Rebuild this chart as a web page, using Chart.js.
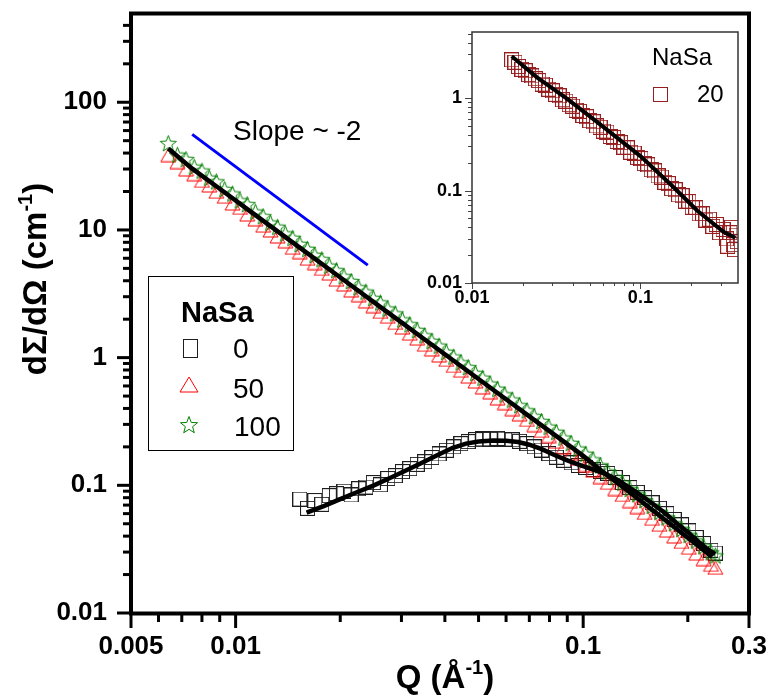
<!DOCTYPE html>
<html><head><meta charset="utf-8">
<script src="https://cdn.jsdelivr.net/npm/chart.js@4.4.1/dist/chart.umd.min.js"></script>
<style>
html,body{margin:0;padding:0;background:#fff;}
#wrap{position:relative;width:770px;height:696px;}
#wrap canvas{position:absolute;left:0;top:0;}
</style></head><body>
<div id="wrap"><canvas id="main" width="770" height="696"></canvas><canvas id="inset" width="770" height="696"></canvas></div>
<script>
// ---------- DATA ----------
const qMain = [0.0064,0.0068,0.0072,0.0076,0.0080,0.0084,0.0088,0.0093,0.0098,0.0103,0.0108,0.0114,0.0120,0.0126,0.0132,0.0139,0.0146,0.0153,0.0161,0.0169,0.0177,0.0186,0.0195,0.0205,0.0215,0.0226,0.0237,0.0249,0.0261,0.0274,0.0288,0.0302,0.0317,0.0333,0.0350,0.0367,0.0385,0.0404,0.0424,0.0445,0.0467,0.0490,0.0514,0.0540,0.0567,0.0595,0.0625,0.0656,0.0689,0.0723,0.0759,0.0797,0.0837,0.0879,0.0923,0.0969,0.1017,0.1068,0.1121,0.1177,0.1236,0.1298,0.1363,0.1431,0.1503,0.1578,0.1657,0.1740,0.1827,0.1918,0.2014,0.2115,0.2221,0.2332,0.2400];
const iNaSa100 = [47.5,38.5,35.6,31.0,28.9,25.4,23.8,20.7,19.1,16.9,15.8,13.8,12.7,11.3,10.5,9.3,8.6,7.7,7.05,6.3,5.85,5.2,4.8,4.3,3.95,3.52,3.26,2.90,2.68,2.40,2.20,1.97,1.81,1.63,1.48,1.34,1.23,1.10,1.01,0.91,0.835,0.75,0.69,0.62,0.565,0.51,0.465,0.42,0.383,0.345,0.316,0.285,0.260,0.234,0.213,0.192,0.175,0.158,0.142,0.127,0.115,0.104,0.093,0.0845,0.076,0.0685,0.0615,0.0556,0.050,0.0452,0.0406,0.0366,0.0330,0.0296,0.0280];
const iNaSa50 = [38.5,34.0,29.8,27.3,24.2,22.3,19.9,18.2,16.1,14.9,13.2,12.1,10.8,9.9,8.9,8.15,7.25,6.7,5.95,5.5,4.95,4.55,4.08,3.74,3.36,3.08,2.76,2.53,2.28,2.09,1.87,1.72,1.54,1.41,1.26,1.16,1.04,0.96,0.86,0.79,0.71,0.65,0.585,0.535,0.48,0.44,0.395,0.36,0.325,0.296,0.267,0.243,0.219,0.198,0.178,0.161,0.144,0.131,0.116,0.1045,0.0935,0.0840,0.0752,0.0676,0.0607,0.0546,0.0491,0.0442,0.0398,0.0360,0.0324,0.0292,0.0264,0.0238,0.0226];
const qNaSa0 = [0.0153,0.0161,0.0169,0.0177,0.0186,0.0195,0.0205,0.0215,0.0226,0.0237,0.0249,0.0261,0.0274,0.0288,0.0302,0.0317,0.0333,0.0350,0.0367,0.0385,0.0404,0.0424,0.0445,0.0467,0.0490,0.0514,0.0540,0.0567,0.0595,0.0625,0.0656,0.0689,0.0723,0.0759,0.0797,0.0837,0.0879,0.0923,0.0969,0.1017,0.1068,0.1121,0.1177,0.1236,0.1298,0.1363,0.1431,0.1503,0.1578,0.1657,0.1740,0.1827,0.1918,0.2014,0.2115,0.2221,0.2332,0.2400];
const iNaSa0 = [0.078,0.066,0.076,0.071,0.083,0.086,0.090,0.084,0.094,0.097,0.105,0.101,0.113,0.119,0.128,0.135,0.146,0.153,0.165,0.176,0.188,0.200,0.212,0.220,0.228,0.231,0.229,0.233,0.230,0.227,0.221,0.212,0.200,0.189,0.177,0.166,0.157,0.150,0.143,0.138,0.133,0.129,0.124,0.115,0.105,0.096,0.088,0.080,0.073,0.066,0.060,0.054,0.049,0.044,0.039,0.035,0.031,0.0295];
const qFitMain = [0.0064,0.0075,0.0090,0.0110,0.0130,0.0155,0.0185,0.0220,0.0260,0.0300,0.0350,0.0400,0.0460,0.0530,0.0600,0.0700,0.0800,0.0900,0.1000,0.1150,0.1300,0.1450,0.1600,0.1800,0.2000,0.2200,0.2350];
const iFitMain = [43.5,30.2,21.0,14.05,10.06,7.08,4.97,3.51,2.51,1.89,1.388,1.062,0.803,0.605,0.472,0.347,0.266,0.210,0.170,0.125,0.097,0.077,0.0625,0.0487,0.0389,0.0317,0.0275];
const qFit0 = [0.0160,0.0180,0.0200,0.0225,0.0250,0.0280,0.0310,0.0345,0.0380,0.0420,0.0460,0.0500,0.0550,0.0600,0.0650,0.0700,0.0760,0.0830,0.0900,0.0970,0.1050,0.1150,0.1250,0.1400,0.1550,0.1700,0.1850,0.2000,0.2150,0.2300,0.2400];
const iFit0 = [0.061,0.069,0.078,0.089,0.100,0.115,0.131,0.151,0.172,0.196,0.212,0.220,0.224,0.223,0.218,0.208,0.192,0.172,0.157,0.145,0.135,0.124,0.111,0.091,0.075,0.062,0.051,0.043,0.036,0.031,0.029];
const qSlope = [0.0075,0.0240];
const iSlope = [56,5.3];
const qInset = [0.0172,0.0180,0.0189,0.0198,0.0207,0.0217,0.0227,0.0238,0.0249,0.0261,0.0273,0.0286,0.0300,0.0314,0.0329,0.0345,0.0361,0.0378,0.0396,0.0415,0.0435,0.0456,0.0478,0.0501,0.0525,0.0550,0.0576,0.0603,0.0632,0.0662,0.0694,0.0727,0.0762,0.0798,0.0836,0.0876,0.0918,0.0962,0.1008,0.1056,0.1107,0.1160,0.1215,0.1273,0.1334,0.1398,0.1465,0.1535,0.1609,0.1686,0.1767,0.1852,0.1941,0.2034,0.2132,0.2234,0.2341,0.2453,0.2571,0.2694,0.2823,0.2958,0.3100,0.3248,0.3300,0.3404,0.3480,0.3567,0.3620,0.3700,0.3760];
const iNaSa20 = [2.60,2.45,2.20,2.05,1.98,1.80,1.74,1.62,1.55,1.42,1.38,1.25,1.20,1.10,1.06,0.96,0.93,0.85,0.82,0.74,0.72,0.65,0.63,0.57,0.555,0.50,0.485,0.44,0.43,0.385,0.375,0.34,0.33,0.295,0.29,0.26,0.255,0.228,0.222,0.196,0.190,0.168,0.163,0.144,0.140,0.123,0.119,0.105,0.102,0.090,0.088,0.077,0.076,0.066,0.065,0.056,0.056,0.048,0.049,0.041,0.043,0.035,0.038,0.030,0.025,0.035,0.040,0.026,0.023,0.033,0.028];
const qFitInset = [0.0172,0.0243,0.0366,0.0552,0.1000,0.1510,0.2180,0.3130,0.3660];
const iFitInset = [2.84,1.68,0.99,0.555,0.236,0.117,0.0605,0.0356,0.0309];
const xTicksMain = [0.005,0.01,0.1,0.3];
const yTicksMain = [0.01,0.1,1,10,100];
const xTicksInset = [0.01,0.1];
const yTicksInset = [0.01,0.1,1];
const legendTitle = 'NaSa';
const legendLabels = ['0','50','100'];
const insetLegendLabel = '20';

// ---------- helpers ----------
const FONT = "'Liberation Sans', Arial, Helvetica, sans-serif";
const pts = (xs, ys) => xs.map((x, i) => ({x: x, y: ys[i]}));
function makeImg(w, h, draw){ const c=document.createElement('canvas'); c.width=w; c.height=h; draw(c.getContext('2d')); return c; }
function starPath(g,cx,cy,R,r){ g.beginPath(); for(let i=0;i<10;i++){ const a=-Math.PI/2+i*Math.PI/5; const rr=(i%2)?r:R; g.lineTo(cx+rr*Math.cos(a), cy+rr*Math.sin(a)); } g.closePath(); }
const COL0='#1e1e1e', COL50='#ff0000', COL100='#008000', COL20='#961e1e';
const sqImg = makeImg(15,15,g=>{g.strokeStyle=COL0; g.lineWidth=1; g.strokeRect(0.5,0.5,14,14);});
const triImg = makeImg(17,15,g=>{g.strokeStyle=COL50; g.lineWidth=1; g.beginPath(); g.moveTo(8.5,1); g.lineTo(16,14); g.lineTo(1,14); g.closePath(); g.stroke();});
const starImg = makeImg(19,19,g=>{g.strokeStyle=COL100; g.lineWidth=1; starPath(g,9.5,10,8.5,3.6); g.stroke();});
const sq20Img = makeImg(15,15,g=>{g.strokeStyle=COL20; g.lineWidth=1; g.strokeRect(0.5,0.5,14,14);});

function minorTicks(min, max, majors){
  const out=[]; for(let e=-4;e<=3;e++){ const d=Math.pow(10,e); for(let k=2;k<=9;k++){ const v=+(k*d).toPrecision(3); if(v>min*1.0001 && v<max*0.9999 && !majors.includes(v)) out.push(v);} } return out;
}
function seg(ctx,x1,y1,x2,y2){ ctx.beginPath(); ctx.moveTo(x1,y1); ctx.lineTo(x2,y2); ctx.stroke(); }
function drawRich(ctx, parts, cx, base){
  let tot=0; parts.forEach(p=>{ctx.font=p.f; p.w=ctx.measureText(p.t).width; tot+=p.w;});
  let x=cx-tot/2; ctx.textAlign='left'; ctx.textBaseline='alphabetic';
  parts.forEach(p=>{ctx.font=p.f; ctx.fillText(p.t,x,base+(p.dy||0)); x+=p.w;});
}
const noPad = s => { s.paddingTop=0; s.paddingBottom=0; s.paddingLeft=0; s.paddingRight=0; };

// ---------- main chart ----------
const mainDeco = {
  id:'mainDeco',
  afterDraw(chart){
    const {ctx, chartArea:a} = chart; const x=chart.scales.x, y=chart.scales.y;
    ctx.save(); ctx.strokeStyle='#000'; ctx.fillStyle='#000';
    ctx.lineWidth=3;
    minorTicks(y.min,y.max,yTicksMain).forEach(v=>{const p=y.getPixelForValue(v); seg(ctx,a.left-8,p,a.left,p);});
    yTicksMain.forEach(v=>{const p=y.getPixelForValue(v); seg(ctx,a.left-14,p,a.left,p);});
    minorTicks(x.min,x.max,xTicksMain).forEach(v=>{const p=x.getPixelForValue(v); seg(ctx,p,a.bottom,p,a.bottom+9);});
    xTicksMain.forEach(v=>{const p=x.getPixelForValue(v); seg(ctx,p,a.bottom,p,a.bottom+15);});
    ctx.lineWidth=4; ctx.strokeRect(a.left, a.top+0.5, a.right-a.left, a.bottom-a.top);
    // axis titles
    drawRich(ctx,[{t:'Q (Å',f:'bold 33px '+FONT},{t:'-1',f:'bold 20px '+FONT,dy:-14},{t:')',f:'bold 33px '+FONT}],(a.left+a.right)/2+5,688);
    ctx.save(); ctx.translate(46,279); ctx.rotate(-Math.PI/2);
    drawRich(ctx,[{t:'dΣ/dΩ (cm',f:'bold 33px '+FONT},{t:'-1',f:'bold 20px '+FONT,dy:-14},{t:')',f:'bold 33px '+FONT}],0,0);
    ctx.restore();
    // slope annotation
    ctx.font='28px '+FONT; ctx.textAlign='left'; ctx.textBaseline='alphabetic'; ctx.fillText('Slope ~ -2',233,140);
    // legend
    ctx.lineWidth=1; ctx.strokeStyle='#000'; ctx.strokeRect(148.5,276.5,145,174);
    ctx.font='bold 29px '+FONT; ctx.fillText(legendTitle,181,322);
    ctx.font='28px '+FONT;
    ctx.fillText(legendLabels[0],233,358); ctx.fillText(legendLabels[1],233,398); ctx.fillText(legendLabels[2],234,436);
    ctx.strokeStyle=COL0; ctx.strokeRect(183.5,339.5,14,18);
    ctx.strokeStyle=COL50; ctx.beginPath(); ctx.moveTo(189,377); ctx.lineTo(198,392); ctx.lineTo(180,392); ctx.closePath(); ctx.stroke();
    ctx.strokeStyle=COL100; starPath(ctx,189,425.5,9,3.8); ctx.stroke();
    ctx.restore();
  }
};
const lineDS = (label, data, color, w, order) => ({label, data, showLine:true, borderColor:color, borderWidth:w, pointRadius:0, order, tension:0});
const ptDS = (label, data, img, order) => ({label, data, showLine:false, pointStyle:img, pointRadius:6, order});
new Chart(document.getElementById('main'), {
  type:'scatter',
  data:{ datasets:[
    lineDS('fit 50/100', pts(qFitMain,iFitMain), '#000', 4.5, 0),
    lineDS('fit 0', pts(qFit0,iFit0), '#000', 4.5, 0),
    lineDS('Slope ~ -2', pts(qSlope,iSlope), '#0000ff', 3, 0),
    ptDS('100', pts(qMain,iNaSa100), starImg, 1),
    ptDS('50', pts(qMain,iNaSa50), triImg, 2),
    ptDS('0', pts(qNaSa0,iNaSa0), sqImg, 3)
  ]},
  options:{
    responsive:false, animation:false, events:[],
    layout:{padding:{left:0,right:21,top:13,bottom:0}, autoPadding:false},
    plugins:{legend:{display:false}, tooltip:{enabled:false}},
    scales:{
      x:{type:'logarithmic', min:0.005, max:0.3,
         afterBuildTicks:s=>{s.ticks=xTicksMain.map(v=>({value:v}));},
         afterFit:s=>{s.height=83; noPad(s);},
         grid:{display:false, drawTicks:false}, border:{display:false},
         ticks:{autoSkip:false, maxRotation:0, padding:18, color:'#000', font:{family:FONT,size:26,weight:'bold'}, callback:v=>String(v)}},
      y:{type:'logarithmic', min:0.01, max:500,
         afterBuildTicks:s=>{s.ticks=yTicksMain.map(v=>({value:v}));},
         afterFit:s=>{s.width=131; noPad(s);},
         grid:{display:false, drawTicks:false}, border:{display:false},
         ticks:{autoSkip:false, padding:24, color:'#000', font:{family:FONT,size:26,weight:'bold'}, callback:v=>String(v)}}
    }
  },
  plugins:[mainDeco]
});

// ---------- inset chart ----------
const insetDeco = {
  id:'insetDeco',
  afterDraw(chart){
    const {ctx, chartArea:a} = chart; const x=chart.scales.x, y=chart.scales.y;
    ctx.save(); ctx.strokeStyle='#444'; ctx.lineWidth=1;
    minorTicks(y.min,y.max,yTicksInset).forEach(v=>{const p=Math.round(y.getPixelForValue(v))+0.5; seg(ctx,a.left-4,p,a.left,p);});
    yTicksInset.forEach(v=>{const p=Math.round(y.getPixelForValue(v))+0.5; seg(ctx,a.left-7,p,a.left,p);});
    minorTicks(x.min,x.max,xTicksInset).forEach(v=>{const p=Math.round(x.getPixelForValue(v))+0.5; seg(ctx,p,a.bottom,p,a.bottom+3);});
    xTicksInset.forEach(v=>{const p=Math.round(x.getPixelForValue(v))+0.5; seg(ctx,p,a.bottom,p,a.bottom+6);});
    ctx.strokeStyle='#333'; ctx.lineWidth=1.5; ctx.strokeRect(a.left, a.top, a.right-a.left, a.bottom-a.top);
    ctx.fillStyle='#000'; ctx.font='24px '+FONT; ctx.textAlign='left'; ctx.textBaseline='alphabetic';
    ctx.fillText(legendTitle,652,65); ctx.fillText(insetLegendLabel,697,102);
    ctx.strokeStyle=COL20; ctx.lineWidth=1; ctx.strokeRect(653.5,87.5,14,14);
    ctx.restore();
  }
};
new Chart(document.getElementById('inset'), {
  type:'scatter',
  data:{ datasets:[
    lineDS('fit 20', pts(qFitInset,iFitInset), '#000', 4, 0),
    ptDS('20', pts(qInset,iNaSa20), sq20Img, 1)
  ]},
  options:{
    responsive:false, animation:false, events:[],
    layout:{padding:{left:0,right:32,top:32,bottom:383}, autoPadding:false},
    plugins:{legend:{display:false}, tooltip:{enabled:false}},
    scales:{
      x:{type:'logarithmic', min:0.01, max:0.38,
         afterBuildTicks:s=>{s.ticks=xTicksInset.map(v=>({value:v}));},
         afterFit:s=>{s.height=30; noPad(s);},
         grid:{display:false, drawTicks:false}, border:{display:false},
         ticks:{autoSkip:false, maxRotation:0, padding:4, color:'#000', font:{family:FONT,size:18,weight:'bold'}, callback:v=>String(v)}},
      y:{type:'logarithmic', min:0.01, max:5.2,
         afterBuildTicks:s=>{s.ticks=yTicksInset.map(v=>({value:v}));},
         afterFit:s=>{s.width=472; noPad(s);},
         grid:{display:false, drawTicks:false}, border:{display:false},
         ticks:{autoSkip:false, padding:10, color:'#000', font:{family:FONT,size:18,weight:'bold'}, callback:v=>String(v)}}
    }
  },
  plugins:[insetDeco]
});
</script>
</body></html>
